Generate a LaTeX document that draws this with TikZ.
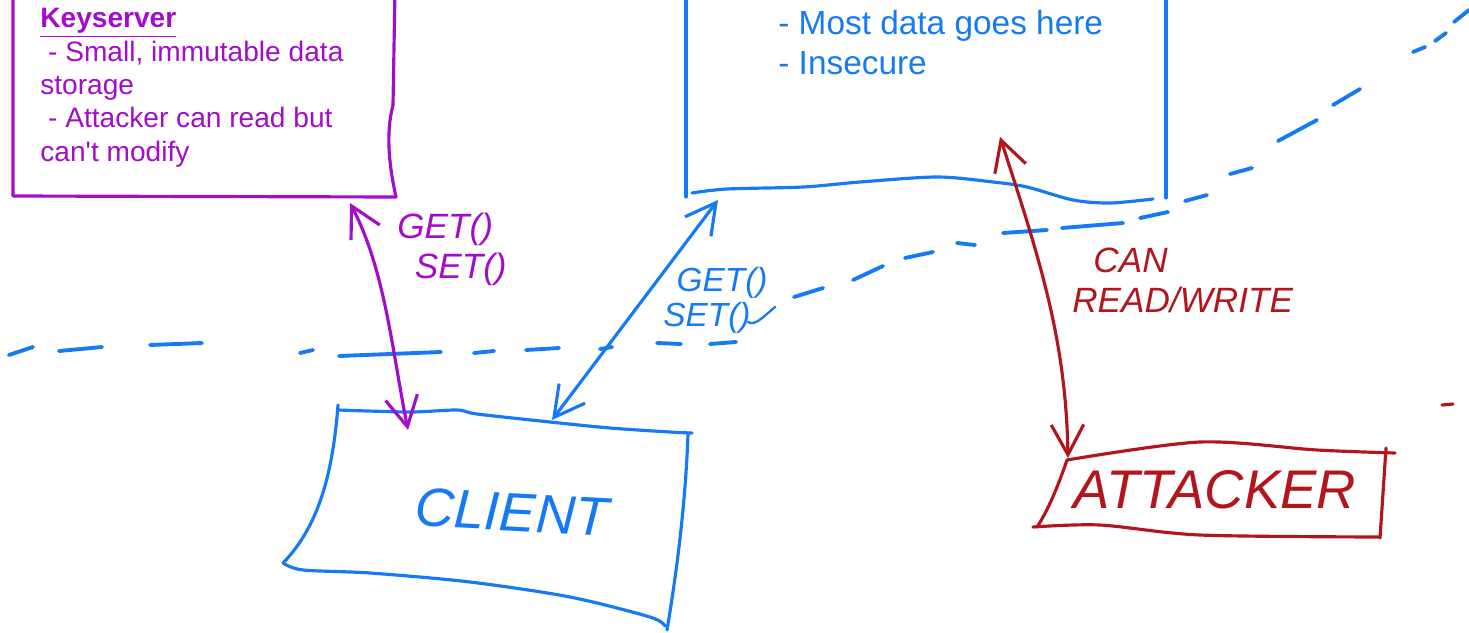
\documentclass[tikz,border=0pt]{standalone}
\usepackage{fontspec}
\setmainfont{Liberation Sans}
\newfontfamily\handfont{Liberation Sans}
\usetikzlibrary{arrows.meta,positioning}

\definecolor{keypurple}{RGB}{163,12,200}
\definecolor{storeblue}{RGB}{22,122,245}
\definecolor{attackred}{RGB}{178,22,28}

\begin{document}
\begin{tikzpicture}[x=0.02cm, y=-0.02cm,
        pen/.style={line width=1.8pt, line cap=round, line join=round},
        boundary/.style={storeblue, line width=2.2pt, line cap=round},
        twoway/.style={pen, {Straight Barb[length=0.6cm,width=0.65cm]}-{Straight Barb[length=0.6cm,width=0.65cm]}},
        boxtext/.style={inner sep=0pt, align=left, anchor=north west},
        hand/.style={inner sep=0pt, align=left, font=\handfont\itshape\fontsize{20}{22.7}\selectfont},
        bighand/.style={inner sep=0pt, font=\handfont\itshape\fontsize{31}{36}\selectfont}
    ]
    \useasboundingbox (0,0) rectangle (1469,632);

    % Trust boundary (hand-drawn dashes)
    \foreach \a/\b in {{9,355}/{33,347}, {59,351}/{102,347}, {150,345}/{202,343},
            {300,353}/{313,350}, {339,356}/{441,352}, {474,353}/{494,351},
            {526,350}/{559,348}, {600,349}/{612,347}, {657,343}/{681,344},
            {710,344}/{736,342}, {794,297}/{823,288}, {853,280}/{883,266},
            {905,258}/{933,252}, {957,243}/{975,245}, {1003,233}/{1047,230},
            {1062,228}/{1123,223}, {1140,218}/{1168,212}, {1185,201}/{1207,195},
            {1230,174}/{1252,168}, {1278,141}/{1317,120}, {1333,105}/{1360,89},
            {1413,52}/{1425,47}, {1435,41}/{1446,33}, {1454,22}/{1469,10}}
        \draw[boundary] (\a) -- (\b);

    % Keyserver
    \draw[pen, keypurple] (13,-10) -- (13,196) -- (396,197)
        .. controls (390,170) and (385,135) .. (393,105) -- (395,-10);
    \node[boxtext, text=keypurple, font=\fontsize{16}{19}\selectfont] (keyserver) at (40,8)
        {\underline{\textbf{Keyserver}}\\\ - Small, immutable data\\storage\\\ - Attacker can read but\\can\textquotesingle t modify};

    % Untrusted storage
    \draw[pen, storeblue] (686,-10) -- (686,197);
    \draw[pen, storeblue] (1166,-10) -- (1166,198);
    \draw[pen, storeblue] plot[smooth] coordinates {(692,193) (727,189) (803,187) (860,182) (937,177)
        (993,182) (1027,187) (1073,200) (1110,203) (1153,199)};
    \node[boxtext, text=storeblue, font=\fontsize{19}{22.7}\selectfont] (storage) at (778,10)
        {- Most data goes here\\- Insecure};

    % Client
    \draw[pen, storeblue] plot[smooth] coordinates {(338,410) (410,412) (457,410) (477,414) (550,422)
        (610,428) (670,432) (692,433)};
    \draw[pen, storeblue] (688,434) .. controls (685,520) and (672,600) .. (667,630);
    \draw[pen, storeblue] plot[smooth] coordinates {(665,626) (650,617) (570,597) (470,582) (370,573)
        (303,570) (283,563)};
    \draw[pen, storeblue] (283,563) .. controls (320,525) and (333,470) .. (338,405);
    \node[bighand, text=storeblue, rotate=-3] (client) at (512,512) {CLIENT};

    % Attacker
    \draw[pen, attackred] plot[smooth] coordinates {(1067,460) (1200,442) (1317,450) (1395,453)};
    \draw[pen, attackred] (1386,448) -- (1380,538);
    \draw[pen, attackred] plot[smooth] coordinates {(1033,527) (1100,525) (1200,535) (1380,537)};
    \draw[pen, attackred] (1067,460) .. controls (1055,495) and (1045,515) .. (1037,527);
    \node[bighand, text=attackred] (attacker) at (1215,490) {ATTACKER};
    \draw[pen, attackred] (1442,405) -- (1453,404);

    % Connection points on the boxes
    \coordinate (keyserver port) at (350,203);
    \coordinate (client key port) at (408,430);
    \coordinate (storage port) at (718,200);
    \coordinate (client store port) at (552,420);
    \coordinate (storage attack port) at (1000,137);
    \coordinate (attacker port) at (1068,458);

    % Arrows
    \draw[twoway, keypurple] (keyserver port) .. controls (385,270) and (392,350) .. (client key port);
    \draw[twoway, storeblue] (client store port) -- (storage port);
    \draw[twoway, attackred] (storage attack port) .. controls (1040,260) and (1066,340) .. (attacker port);

    % Labels
    \node[hand, text=keypurple, anchor=north west] (keylabel) at (397,213) {GET()\\\hspace{0.5em}SET()};
    \node[hand, text=storeblue, anchor=north west, font=\handfont\itshape\fontsize{19}{20}\selectfont] (storelabel) at (663,267)
        {\hspace{0.4em}GET()\\SET()};
    \draw[pen, storeblue, line width=1.3pt] (748,322) .. controls (755,326) and (762,318) .. (775,307);
    \node[hand, text=attackred, anchor=north west] (attacklabel) at (1072,248)
        {\hspace{0.6em}CAN\\READ/WRITE};

\end{tikzpicture}
\end{document}
